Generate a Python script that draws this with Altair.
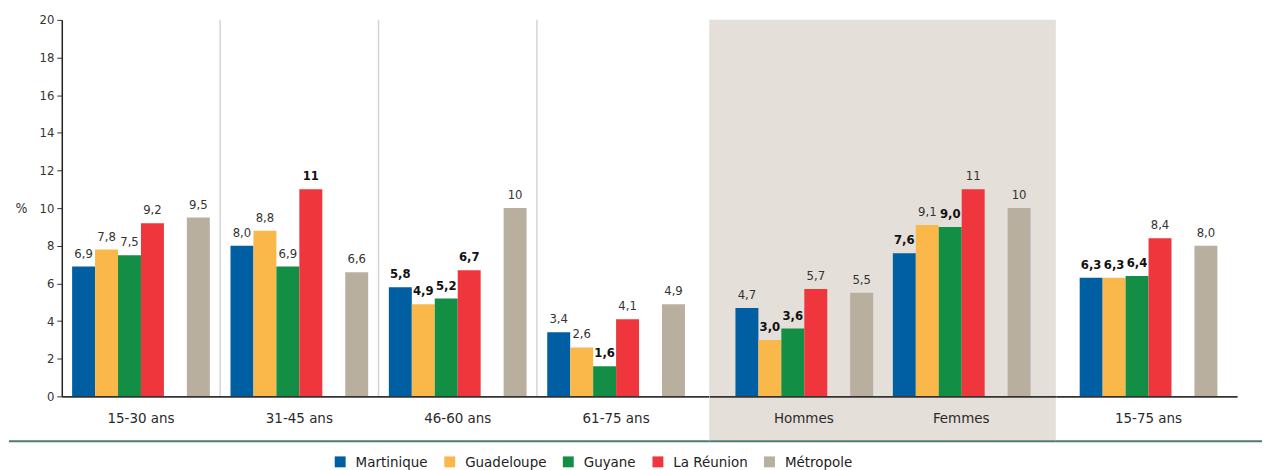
import altair as alt
import pandas as pd

groups = ["15-30 ans", "31-45 ans", "46-60 ans", "61-75 ans", "Hommes", "Femmes", "15-75 ans"]
series = ["Martinique", "Guadeloupe", "Guyane", "La Réunion", "Métropole"]
colors = ["#005ea2", "#fbb84a", "#128f45", "#ee363c", "#b9af9f"]

martinique = [6.9, 8.0, 5.8, 3.4, 4.7, 7.6, 6.3]
guadeloupe = [7.8, 8.8, 4.9, 2.6, 3.0, 9.1, 6.3]
guyane = [7.5, 6.9, 5.2, 1.6, 3.6, 9.0, 6.4]
reunion = [9.2, 11, 6.7, 4.1, 5.7, 11, 8.4]
metropole = [9.5, 6.6, 10, 4.9, 5.5, 10, 8.0]

# values printed in bold in the reference
bold_martinique = [False, False, True, False, False, True, True]
bold_guadeloupe = [False, False, True, False, True, False, True]
bold_guyane = [False, False, True, True, True, True, True]
bold_reunion = [False, True, True, False, False, False, False]
bold_metropole = [False, False, False, False, False, False, False]

values = [martinique, guadeloupe, guyane, reunion, metropole]
bolds = [bold_martinique, bold_guadeloupe, bold_guyane, bold_reunion, bold_metropole]

rows = []
for s, vals, bl in zip(series, values, bolds):
    for g, v, b in zip(groups, vals, bl):
        lab = f"{v:.0f}" if v >= 10 else f"{v:.1f}".replace(".", ",")
        rows.append({"group": g, "series": s, "value": v, "label": lab, "bold": b})
df = pd.DataFrame(rows)

FONT = "'DejaVu Sans Condensed', 'Roboto', sans-serif"
H = 378
offset_domain = series[:4] + ["_gap"] + series[4:]

color_enc = alt.Color(
    "series:N",
    scale=alt.Scale(domain=series, range=colors),
    legend=alt.Legend(
        title=None, orient="none", legendX=272, legendY=436, direction="horizontal",
        symbolType="square", symbolSize=120, symbolStrokeWidth=0, labelFontSize=15,
        labelColor="#222", columnPadding=14, labelFont=FONT, labelOffset=8,
    ),
)


def panel(grp, width, pad_outer, align, yaxis, kind=None, line_from=0, line_to=None):
    d = df[df["group"].isin(grp)]
    xscale = alt.Scale(domain=grp, paddingInner=0, paddingOuter=pad_outer, align=align)
    xaxis = alt.Axis(
        title=None, labelAngle=0, ticks=False, domainColor="#333", domainWidth=2,
        labelFontSize=15, labelPadding=14, labelColor="#2a2a2a", zindex=1, labelFont=FONT,
    )
    if yaxis:
        yax = alt.Axis(
            title="%", titleAngle=0, titleAlign="left", titleBaseline="middle",
            titleX=-47, titleY=H / 2, titleFontSize=14, titleFontWeight="normal",
            titleColor="#333", values=list(range(0, 21, 2)), tickSize=5, labelOverlap=False,
            tickColor="#333", domainColor="#222", domainWidth=1.5, labelFontSize=13,
            labelColor="#333", labelPadding=3, grid=False, labelFont=FONT, titleFont=FONT,
        )
    else:
        yax = None
    x = alt.X("group:N", scale=xscale, axis=xaxis, sort=grp)
    y = alt.Y("value:Q", scale=alt.Scale(domain=[0, 20]), axis=yax)
    xo = alt.XOffset("series:N", scale=alt.Scale(domain=offset_domain, paddingOuter=0.45, paddingInner=0))
    base = alt.Chart(d)
    bars = base.mark_bar().encode(x=x, y=y, xOffset=xo, color=color_enc)
    t_reg = base.transform_filter("!datum.bold").mark_text(
        baseline="bottom", dy=-6, fontSize=13, color="#333", font=FONT
    ).encode(x=x, y=y, xOffset=xo, text="label:N")
    t_bold = base.transform_filter("datum.bold").mark_text(
        baseline="bottom", dy=-6, fontSize=13, color="#111", fontWeight="bold", font=FONT
    ).encode(x=x, y=y, xOffset=xo, text="label:N")
    layers = []
    if kind == "sep":
        sep = pd.DataFrame({"group": grp[1:]})
        layers.append(alt.Chart(sep).mark_rule(color="#d4d4d4", strokeWidth=1.5).encode(
            x=alt.X("group:N", bandPosition=0, scale=xscale, axis=xaxis, sort=grp),
            y=alt.value(0), y2=alt.value(H)))
    if kind == "shade":
        layers.append(alt.Chart(pd.DataFrame({"a": [0]})).mark_rect(color="#e4dfd9").encode(
            x=alt.value(0), x2=alt.value(width), y=alt.value(0), y2=alt.value(H + 44)))
    layers += [bars, t_reg, t_bold]
    layers.append(alt.Chart(pd.DataFrame({"a": [0]})).mark_rule(color="#4f7a6e", strokeWidth=2).encode(
        x=alt.value(line_from), x2=alt.value(width if line_to is None else line_to), y=alt.value(H + 45)))
    return alt.layer(*layers).properties(width=width, height=H)


pA = panel(groups[:4], 650, 0.044, 0, True, kind="sep", line_from=-53)
pB = panel(groups[4:6], 348, 0.101, 0.5, False, kind="shade")
pC = panel(groups[6:], 182, 0.0723, 0.59, False, line_to=207)

chart = alt.hconcat(pA, pB, pC, spacing=0, bounds="flush").properties(
    padding={"left": 0, "top": 5, "right": 5, "bottom": 0}
).configure(font=FONT).configure_view(stroke=None)

chart.save("out.html", embed_options={"renderer": "svg", "actions": False})
